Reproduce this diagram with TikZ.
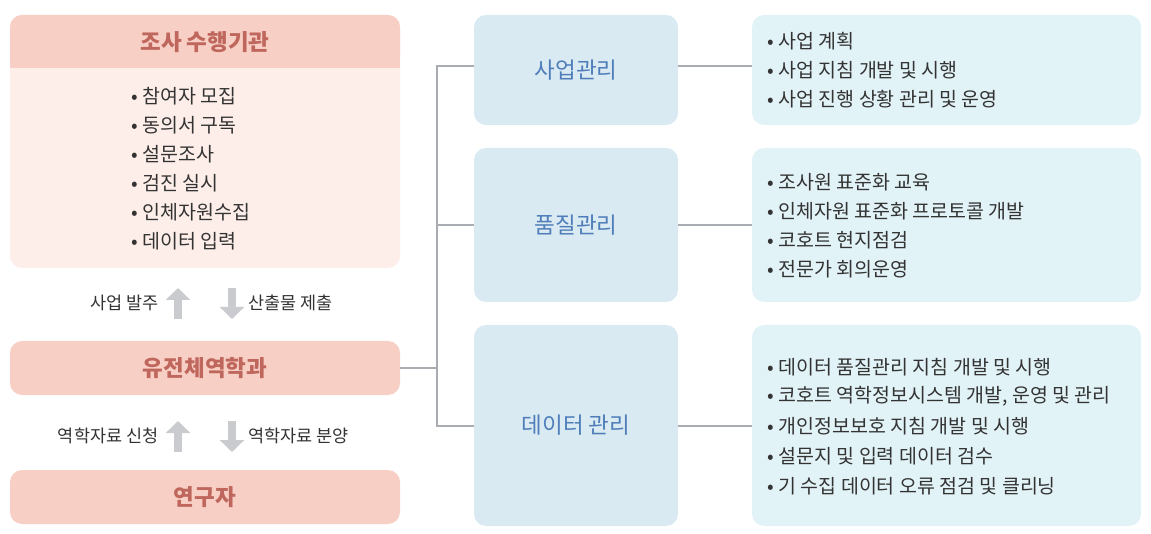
\documentclass[tikz,border=0pt]{standalone}
\usepackage{fontspec}
\setmainfont{Noto Sans CJK KR}
\usetikzlibrary{arrows.meta}
\definecolor{hdr}{HTML}{F7CFC5}
\definecolor{pale}{HTML}{FDEEE9}
\definecolor{hdrtxt}{HTML}{C0675D}
\definecolor{mid}{HTML}{DAEAF2}
\definecolor{midtxt}{HTML}{4E7DB9}
\definecolor{rbox}{HTML}{E2F3F8}
\definecolor{ln}{HTML}{A9ADB2}
\definecolor{arr}{HTML}{C9CBCE}
\definecolor{txt}{HTML}{333333}
\tikzset{x=1pt,y=-1pt,
 box/.style={rounded corners=12pt,draw=none},
 hd/.style={text=hdrtxt,font=\fontsize{22.5}{26}\selectfont\bfseries},
 md/.style={text=midtxt,font=\fontsize{22.5}{26}\selectfont},
 bt/.style={text=txt,font=\fontsize{19.5}{23}\selectfont,anchor=west},
 lab/.style={text=txt,font=\fontsize{17.5}{20}\selectfont},
 conn/.style={draw=ln,line width=1.2pt},
 bigarr/.style={draw=arr,line width=8pt,-{Triangle[width=24pt,length=12pt]}}}
\begin{document}
\begin{tikzpicture}
\useasboundingbox (0,0) rectangle (1151,534);
% left column
\fill[pale,rounded corners=12pt] (10,15) rectangle (400,268);
\fill[hdr,rounded corners=12pt] (10,15) rectangle (400,68);
\fill[hdr] (10,50) rectangle (400,68);
\node[hd] (org) at (205,42) {조사 수행기관};
\foreach \t [count=\i] in {참여자 모집,동의서 구독,설문조사,검진 실시,인체자원수집,데이터 입력}
  \node[bt] at (128,67+29*\i) {• \t};
\node[lab,anchor=east] (l1) at (162,303) {사업 발주};
\node[lab,anchor=west] (l2) at (245,303) {산출물 제출};
\draw[bigarr] (178,319) -- (178,288);
\draw[bigarr] (232,288) -- (232,319);
\node[box,fill=hdr,minimum width=390pt,minimum height=54pt,hd] (gen) at (205,368) {유전체역학과};
\node[lab,anchor=east] (l3) at (162,436) {역학자료 신청};
\node[lab,anchor=west] (l4) at (245,436) {역학자료 분양};
\draw[bigarr] (178,452) -- (178,421);
\draw[bigarr] (232,421) -- (232,452);
\node[box,fill=hdr,minimum width=390pt,minimum height=54pt,hd] (res) at (205,497) {연구자};
% middle
\node[box,fill=mid,minimum width=204pt,minimum height=110pt,md] (m1) at (576,70) {사업관리};
\node[box,fill=mid,minimum width=204pt,minimum height=154pt,md] (m2) at (576,225) {품질관리};
\node[box,fill=mid,minimum width=204pt,minimum height=201pt,md] (m3) at (576,425.5) {데이터 관리};
\coordinate (j) at (437,368);
\draw[conn] (gen.east) -- (j);
\draw[conn] (m1.west|-0,66) -| (437,426) -- (m3.west|-0,426);
\draw[conn] (437,225) -- (m2.west|-0,225);
% right
\node[box,fill=rbox,minimum width=389pt,minimum height=110pt] (r1) at (946.5,70) {};
\node[box,fill=rbox,minimum width=389pt,minimum height=154pt] (r2) at (946.5,225) {};
\node[box,fill=rbox,minimum width=389pt,minimum height=201pt] (r3) at (946.5,425.5) {};
\draw[conn] (m1.east|-0,66) -- (r1.west|-0,66);
\draw[conn] (m2.east|-0,225) -- (r2.west|-0,225);
\draw[conn] (m3.east|-0,426) -- (r3.west|-0,426);
\foreach \t [count=\i] in {사업 계획,사업 지침 개발 및 시행,사업 진행 상황 관리 및 운영}
  \node[bt] at (764,12+29*\i) {• \t};
\foreach \t [count=\i] in {조사원 표준화 교육,인체자원 표준화 프로토콜 개발,코호트 현지점검,전문가 회의운영}
  \node[bt] at (764,153+29*\i) {• \t};
\foreach \t [count=\i] in {데이터 품질관리 지침 개발 및 시행,{코호트 역학정보시스템 개발, 운영 및 관리},개인정보보호 지침 개발 및 시행,설문지 및 입력 데이터 검수,기 수집 데이터 오류 점검 및 클리닝}
  \node[bt] at (764,337+29.8*\i) {• \t};
\end{tikzpicture}
\end{document}
